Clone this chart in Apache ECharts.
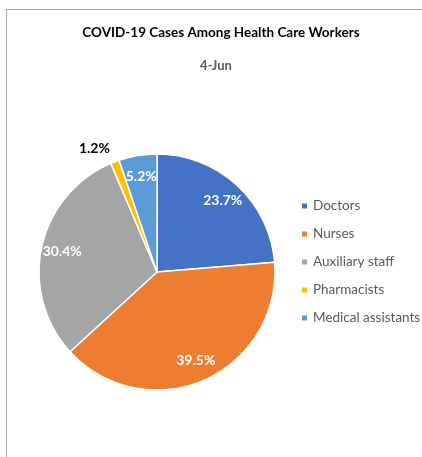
<!DOCTYPE html>
<html lang="en">
<head>
    <meta charset="UTF-8">
    <title>COVID-19 Cases Among Health Care Workers</title>
    <script src="https://cdn.jsdelivr.net/npm/echarts@6/dist/echarts.min.js"></script>
    <style>
        html, body { margin: 0; padding: 0; background: #fff; }
        #frame {
            position: absolute; left: 6px; top: 9px; width: 430px; height: 460px;
            border-top: 1px solid #a6a6a6; border-left: 1px solid #a6a6a6;
        }
        #chart { position: absolute; left: 0; top: 0; width: 422px; height: 457px; }
    </style>
</head>
<body>
    <div id="frame"></div>
    <div id="chart"></div>
    <script>
        var categories = ['Doctors', 'Nurses', 'Auxiliary staff', 'Pharmacists', 'Medical assistants'];
        var shares = [23.7, 39.5, 30.4, 1.2, 5.2];
        var colors = ['#4472c4', '#ed7d31', '#a5a5a5', '#ffc000', '#5b9bd5'];

        var font = 'Lato, "Liberation Sans", sans-serif';
        var pieData = categories.map(function (name, i) {
            return { name: name, value: shares[i] };
        });

        var chart = echarts.init(document.getElementById('chart'));
        var option = {
            color: colors,
            animation: false,
            title: [{
                text: 'COVID-19 Cases Among Health Care Workers',
                left: 216, top: 21, textAlign: 'center',
                textStyle: { fontFamily: font, fontSize: 13.5, fontWeight: 'bold', color: '#000' }
            }, {
                text: '4-Jun',
                left: 211, top: 54, textAlign: 'center',
                textStyle: { fontFamily: font, fontSize: 13, fontWeight: 'bold', color: '#595959' }
            }],
            legend: {
                orient: 'vertical',
                left: 300, top: 198,
                padding: 0,
                icon: 'rect',
                itemWidth: 7, itemHeight: 7,
                itemGap: 12,
                textStyle: { fontFamily: font, fontSize: 13.5, color: '#595959', lineHeight: 16 },
                data: categories
            },
            series: [{
                type: 'pie',
                center: [157, 272],
                radius: 118,
                startAngle: 90,
                clockwise: true,
                itemStyle: { borderColor: '#fff', borderWidth: 1.5 },
                label: { show: false },
                labelLine: { show: false, length: 14, length2: 0 },
                data: pieData.map(function (d) {
                    if (d.name === 'Pharmacists') {
                        return {
                            name: d.name, value: d.value,
                            label: {
                                show: true, position: 'outside',
                                distanceToLabelLine: 0,
                                formatter: function (p) { return p.value.toFixed(1) + '%'; },
                                fontFamily: font, fontSize: 14, fontWeight: 'bold', color: '#000'
                            }
                        };
                    }
                    return d;
                })
            }, {
                // invisible ring, its inside labels sit at ~0.8 of the real radius
                type: 'pie',
                silent: true,
                avoidLabelOverlap: false,
                center: [157, 272],
                radius: [70, 118],
                startAngle: 90,
                clockwise: true,
                legendHoverLink: false,
                itemStyle: { color: 'rgba(0,0,0,0)' },
                label: {
                    show: true, position: 'inside',
                    formatter: function (p) {
                        return p.name === 'Pharmacists ' ? '' : p.value.toFixed(1) + '%';
                    },
                    fontFamily: font, fontSize: 14, fontWeight: 'bold', color: '#fff'
                },
                // pin each label to the spot the pie layout worked out for it
                labelLayout: function (p) {
                    var r = p.labelRect;
                    return {
                        x: r.x + r.width / 2, y: r.y + r.height / 2,
                        align: 'center', verticalAlign: 'middle'
                    };
                },
                labelLine: { show: false },
                data: pieData.map(function (d) { return { name: d.name + ' ', value: d.value }; })
            }]
        };
        chart.setOption(option);
    </script>
</body>
</html>
